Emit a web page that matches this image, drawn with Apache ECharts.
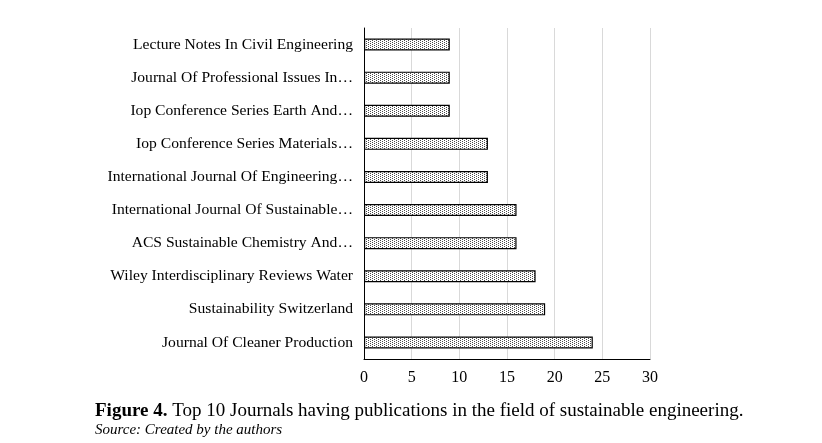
<!DOCTYPE html>
<html>
<head>
<meta charset="utf-8">
<script src="https://cdn.jsdelivr.net/npm/echarts@6/dist/echarts.min.js"></script>
<style>
  html, body { margin: 0; padding: 0; background: #fff; }
  #chart { width: 822px; height: 443px; }
</style>
</head>
<body>
<div id="chart"></div>
<script>
// journals, top to bottom as in the figure
const journals = [
  'Lecture Notes In Civil Engineering',
  'Journal Of Professional Issues In…',
  'Iop Conference Series Earth And…',
  'Iop Conference Series Materials…',
  'International Journal Of Engineering…',
  'International Journal Of Sustainable…',
  'ACS Sustainable Chemistry And…',
  'Wiley Interdisciplinary Reviews Water',
  'Sustainability Switzerland',
  'Journal Of Cleaner Production'
];
const publications = [9, 9, 9, 13, 13, 16, 16, 18, 19, 24];
const xTicks = [0, 5, 10, 15, 20, 25, 30];

// dotted fill like the excel pattern
const makeDots = () => {
  const c = document.createElement('canvas');
  c.width = 4;
  c.height = 2;
  const ctx = c.getContext('2d');
  ctx.fillStyle = '#ffffff';
  ctx.fillRect(0, 0, 4, 2);
  ctx.fillStyle = '#4a4a4a';
  ctx.fillRect(0, 0, 1, 1);
  ctx.fillRect(2, 1, 1, 1);
  return c;
};

const font = '"Liberation Serif", "Times New Roman", serif';
const chart = echarts.init(document.getElementById('chart'));

chart.setOption({
  animation: false,
  backgroundColor: '#fff',
  textStyle: { fontFamily: font },
  title: {
    left: 90,
    top: 397,
    itemGap: 2,
    text: '{b|Figure 4.} Top 10 Journals having publications in the field of sustainable engineering.',
    textStyle: {
      fontFamily: font,
      fontSize: 19,
      fontWeight: 'normal',
      color: '#000',
      rich: {
        b: { fontFamily: font, fontSize: 19, fontWeight: 'bold', color: '#000' }
      }
    },
    subtext: 'Source: Created by the authors',
    subtextStyle: {
      fontFamily: font,
      fontSize: 15,
      fontStyle: 'italic',
      color: '#000'
    }
  },
  grid: { left: 364, right: 172, top: 28, bottom: 84, containLabel: false },
  xAxis: {
    type: 'value',
    min: xTicks[0],
    max: xTicks[xTicks.length - 1],
    interval: 5,
    axisLine: { show: true, lineStyle: { color: '#000', width: 1 } },
    axisTick: { show: false },
    axisLabel: { fontFamily: font, fontSize: 16, color: '#000', margin: 11 },
    splitLine: { lineStyle: { color: '#d9d9d9', width: 1 } }
  },
  yAxis: {
    type: 'category',
    inverse: true,
    data: journals,
    axisLine: { show: true, lineStyle: { color: '#000', width: 1 } },
    axisTick: { show: false },
    axisLabel: { fontFamily: font, fontSize: 15.6, color: '#000', margin: 11 }
  },
  series: [{
    type: 'bar',
    data: publications,
    barWidth: 12,
    itemStyle: {
      color: { image: makeDots(), repeat: 'repeat' },
      borderColor: '#000',
      borderWidth: 1.2
    }
  }]
});
</script>
</body>
</html>
